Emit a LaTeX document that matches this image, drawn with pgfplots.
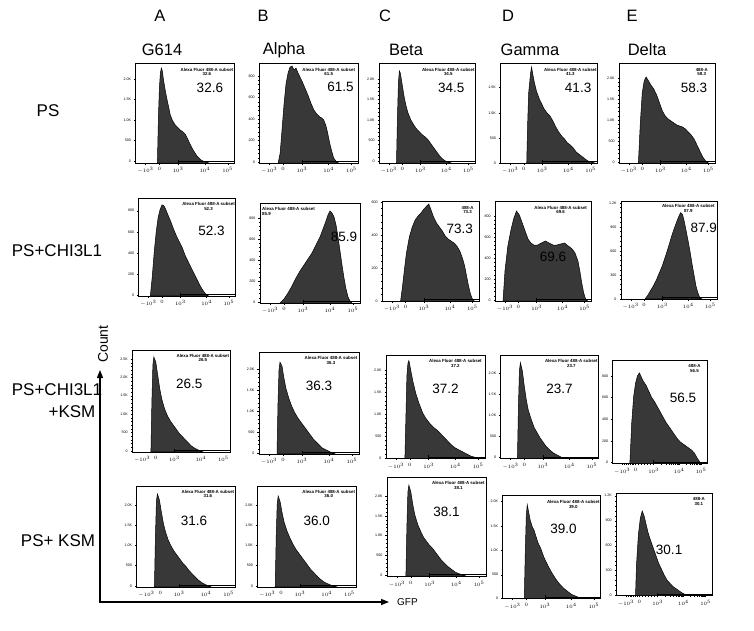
\documentclass[border=0pt]{standalone}
\usepackage{pgfplots}
\pgfplotsset{compat=1.18}
\usepackage{fontspec}
\setmainfont{Liberation Sans}
\usetikzlibrary{arrows.meta}
\pgfplotsset{
  hist/.style={scale only axis, anchor=north west, xmin=0, xmax=100, ymin=0, ymax=100,
    axis line style={black, line width=0.6pt},
    xtick={10,24,43,70,93}, xticklabels={$-10^3$,$0$,$10^3$,$10^4$,$10^5$},
    minor xtick={12,14,16,18,20,22,27,30,33,36,39,51.1,55.9,59.3,61.9,64,65.8,67.4,68.8,76.9,81,83.8,86.1,87.9,89.4,90.8,92},
    xtick pos=left, ytick pos=left, tick align=outside,
    major tick length=1.6pt, minor tick length=0.9pt,
    minor y tick num=4,
    tick style={black, line width=0.4pt},
    tick label style={font=\fontsize{3.6}{4}\selectfont},
    xticklabel style={yshift=0.5pt}, yticklabel style={xshift=0.5pt},
    clip=false},
  hf/.style={fill=black!78, draw=black, line width=0.5pt},
}
\tikzset{lab/.style={font=\fontsize{4.4}{4.8}\selectfont\bfseries, inner sep=0pt, align=center},
  big/.style={font=\fontsize{13.5}{14}\selectfont, inner sep=0pt},
  gate/.style={black, line width=0.6pt},
  hdr/.style={font=\fontsize{16.5}{18}\selectfont, inner sep=0pt},
  rowl/.style={font=\fontsize{17}{20}\selectfont, inner sep=0pt, align=center}}
\newcommand{\gate}{\draw[gate] (axis cs:43,1.5) -- (axis cs:100,1.5); \draw[gate] (axis cs:43,0) -- (axis cs:43,3);}
\begin{document}
\begin{tikzpicture}[x=1pt,y=1pt]
% headers
\foreach \x/\l in {160/A, 263/B, 385/C, 508/D, 632/E}{\node[hdr] at (\x,-16) {\l};}
\foreach \x/\n in {162/G614, 284/Alpha, 406/Beta, 530/Gamma, 647/Delta}{\node[hdr] at (\x,-50) {\n};}
\node[rowl] at (48,-111) {PS};
\node[rowl] at (57,-251) {PS+CHI3L1};
\node[rowl] at (57,-390) {PS+CHI3L1};
\node[rowl] at (72,-412) {+KSM};
\node[rowl] at (58,-541) {PS+ KSM};
\draw[line width=1.3pt, -{Triangle[length=8pt,width=6pt]}] (100,-602) -- (100,-370);
\draw[line width=1.3pt, -{Triangle[length=8pt,width=6pt]}] (99.35,-602) -- (389,-602);
\node[font=\fontsize{14}{14}\selectfont, rotate=90, inner sep=0pt] at (103,-344) {Count};
\node[font=\fontsize{10}{10}\selectfont, inner sep=0pt, anchor=west] at (397,-602) {GFP};

% ===== Row 1 =====
\begin{axis}[hist, at={(137,-63)}, width=99, height=100, ytick={2,22.5,43,63.5,84}, yticklabels={0,500,1.0K,1.5K,2.0K}]
\addplot[hf] coordinates {(22,0)(23,45)(24,75)(25,90)(26,95)(27,92)(28,84)(30,72)(32,62)(34,53)(35,48)(37,43)(40,38)(43,35)(45,33)(48,31)(50,29)(52,25)(54,21)(56,17)(58,13)(60,10)(62,7)(64,5)(66,3)(68,2)(71,1)(74,0)} \closedcycle;
\gate
\node[lab] at (axis cs:72,91) {Alexa Fluor 488-A subset\\32.6};
\node[big] at (axis cs:75,75) {32.6};
\end{axis}
\begin{axis}[hist, at={(262,-63)}, width=99, height=100, ytick={1,22.5,44,65.5,87}, yticklabels={0,200,400,600,800}]
\addplot[hf] coordinates {(19,0)(21,10)(23,35)(25,60)(27,80)(29,90)(31,96)(33,97)(35,93)(37,95)(39,90)(41,86)(43,82)(46,75)(49,68)(52,60)(55,53)(58,49)(61,46)(63,45)(65,43)(67,38)(69,30)(71,20)(73,12)(75,5)(78,1)(80,0)} \closedcycle;
\gate
\node[lab] at (axis cs:70,91) {Alexa Fluor 488-A subset\\61.5};
\node[big] at (axis cs:82,76) {61.5};
\end{axis}
\begin{axis}[hist, at={(395,-63)}, width=96, height=100, ytick={2,22.5,43,63.5,84}, yticklabels={0,500,1.0K,1.5K,2.0K}]
\addplot[hf] coordinates {(18,0)(19,45)(20,80)(21,92)(22,90)(24,78)(26,66)(28,57)(30,50)(33,43)(36,38)(39,34)(42,31)(45,28)(48,26)(51,23)(54,19)(57,15)(60,11)(63,7)(66,4)(69,2)(72,1)(75,0)} \closedcycle;
\gate
\node[lab] at (axis cs:72,91) {Alexa Fluor 488-A subset\\34.5};
\node[big] at (axis cs:75,75) {34.5};
\end{axis}
\begin{axis}[hist, at={(516,-63)}, width=97, height=100, ytick={0,25,50,76}, yticklabels={0,500,1.0K,1.5K}]
\addplot[hf] coordinates {(27,0)(28,40)(29,70)(31,90)(32,96)(33,90)(35,80)(37,72)(40,64)(43,58)(45,54)(48,50)(51,47)(54,42)(57,36)(60,31)(63,27)(66,24)(69,20)(72,18)(75,15)(78,11)(82,8)(86,5)(90,2)(94,1)(97,0)} \closedcycle;
\gate
\node[lab] at (axis cs:72,91) {Alexa Fluor 488-A subset\\41.3};
\node[big] at (axis cs:80,75) {41.3};
\end{axis}
\begin{axis}[hist, at={(645,-63)}, width=96, height=100, ytick={1,22,43,64,85}, yticklabels={0,500,1.0K,1.5K,2.0K}]
\addplot[hf] coordinates {(20,0)(22,40)(24,70)(26,82)(28,86)(30,83)(33,78)(36,74)(39,68)(42,60)(45,52)(48,47)(51,44)(54,42)(57,40)(60,38)(63,37)(66,36)(69,34)(72,31)(75,28)(78,24)(81,18)(84,12)(87,6)(90,2)(93,0)} \closedcycle;
\gate
\node[lab] at (axis cs:86,91) {488-A\\58.3};
\node[big] at (axis cs:78,75) {58.3};
\end{axis}

% ===== Row 2 =====
\begin{axis}[hist, at={(143,-202)}, width=97, height=98, ytick={1,22.5,44,65.5,87}, yticklabels={0,200,400,600,800}]
\addplot[hf] coordinates {(12,0)(14,20)(16,45)(18,65)(20,80)(22,88)(24,93)(26,92)(28,88)(30,83)(33,76)(36,68)(39,61)(42,55)(45,49)(48,41)(51,35)(54,29)(57,23)(60,17)(63,11)(66,6)(69,2)(72,0)} \closedcycle;
\gate
\node[lab] at (axis cs:72,91) {Alexa Fluor 488-A subset\\52.3};
\node[big] at (axis cs:75,66) {52.3};
\end{axis}
\begin{axis}[hist, at={(260,-203)}, width=100, height=100, ytick={1,22,43,64,85}, yticklabels={0,200,400,600,800}]
\addplot[hf] coordinates {(20,0)(24,4)(28,10)(32,17)(36,25)(40,32)(44,38)(48,44)(52,50)(56,58)(60,66)(63,74)(66,82)(68,88)(70,92)(72,90)(74,86)(76,78)(78,66)(80,52)(82,38)(84,25)(86,14)(88,6)(90,2)(92,0)} \closedcycle;
\gate
\node[lab, anchor=north west, align=left] at (axis cs:2,96) {Alexa Fluor 488-A subset\\85.9};
\node[big] at (axis cs:84,66) {85.9};
\end{axis}
\begin{axis}[hist, at={(394,-201)}, width=97, height=100, ytick={0,33,66,99}, yticklabels={0,200,400,600}]
\addplot[hf] coordinates {(19,0)(21,15)(23,32)(25,48)(28,64)(31,74)(34,81)(37,85)(40,88)(43,92)(46,95)(48,97)(50,92)(53,84)(56,78)(59,74)(62,70)(65,65)(68,62)(71,60)(74,58)(77,55)(80,50)(83,42)(85,35)(87,25)(89,15)(91,7)(93,2)(95,0)} \closedcycle;
\gate
\node[lab] at (axis cs:88,91) {488-A\\73.3};
\node[big] at (axis cs:80,72) {73.3};
\end{axis}
\begin{axis}[hist, at={(516,-201)}, width=96, height=100, ytick={1,22,43,64,85}, yticklabels={0,200,400,600,800}]
\addplot[hf] coordinates {(8,0)(10,30)(13,55)(16,70)(19,82)(22,90)(25,86)(28,78)(31,70)(34,62)(37,58)(40,56)(44,56)(48,58)(52,60)(56,58)(60,56)(64,56)(68,57)(72,58)(76,55)(80,52)(83,48)(86,40)(88,30)(90,18)(92,8)(94,2)(96,0)} \closedcycle;
\gate
\node[lab] at (axis cs:68,91) {Alexa Fluor 488-A subset\\69.6};
\node[big] at (axis cs:60,44) {69.6};
\end{axis}
\begin{axis}[hist, at={(647,-205)}, width=96, height=98, ytick={0,24.5,49,73.5,98}, yticklabels={0,300,600,900,1.2K}]
\addplot[hf] coordinates {(25,0)(28,4)(31,9)(34,14)(37,20)(40,27)(43,34)(46,43)(49,52)(52,62)(55,71)(58,79)(60,84)(62,88)(64,86)(66,78)(68,68)(70,58)(72,47)(74,35)(76,24)(78,13)(80,6)(82,1)(84,0)} \closedcycle;
\gate
\node[lab] at (axis cs:70,92) {Alexa Fluor 488-A subset\\87.9};
\node[big] at (axis cs:86,72) {87.9};
\end{axis}

% ===== Row 3 =====
\begin{axis}[hist, at={(135,-343)}, width=98, height=102, ytick={1,19,37,55,73,91}, yticklabels={0,500,1.0K,1.5K,2.0K,2.5K}]
\addplot[hf] coordinates {(19,0)(20,50)(21,85)(22,93)(24,88)(26,75)(28,62)(30,52)(33,42)(36,35)(39,30)(42,26)(45,22)(48,18)(51,15)(54,12)(57,9)(60,6)(63,4)(67,2)(72,0)} \closedcycle;
\gate
\node[lab] at (axis cs:72,92) {Alexa Fluor 488-A subset\\26.5};
\node[big] at (axis cs:58,67) {26.5};
\end{axis}
\begin{axis}[hist, at={(259,-345)}, width=100, height=102, ytick={1,21.5,42,62.5,83}, yticklabels={0,500,1.0K,1.5K,2.0K}]
\addplot[hf] coordinates {(18,0)(19,50)(20,82)(21,90)(23,86)(25,74)(27,64)(30,54)(33,46)(36,40)(39,35)(42,31)(45,27)(48,23)(51,19)(54,15)(57,12)(60,9)(63,6)(67,4)(71,2)(76,0)} \closedcycle;
\gate
\node[lab] at (axis cs:72,92) {Alexa Fluor 488-A subset\\36.3};
\node[big] at (axis cs:60,67) {36.3};
\end{axis}
\begin{axis}[hist, at={(390,-345)}, width=99, height=103, ytick={0,21.5,43,64.5,86}, yticklabels={0,500,1.0K,1.5K,2.0K}]
\addplot[hf] coordinates {(19,0)(20,40)(21,80)(22,92)(23,95)(25,85)(27,75)(30,63)(33,54)(37,44)(40,39)(44,34)(48,30)(52,27)(54,25)(58,21)(62,17)(66,13)(70,10)(74,8)(78,6)(82,4)(86,2)(90,1)(93,0)} \closedcycle;
\gate
\node[lab] at (axis cs:70,92) {Alexa Fluor 488-A subset\\37.2};
\node[big] at (axis cs:60,67) {37.2};
\end{axis}
\begin{axis}[hist, at={(511,-345)}, width=98, height=103, ytick={1,21.5,42,62.5,83}, yticklabels={0,500,1.0K,1.5K,2.0K}]
\addplot[hf] coordinates {(17,0)(18,50)(19,85)(20,93)(22,85)(24,70)(26,57)(28,47)(31,38)(34,30)(37,25)(40,20)(43,16)(46,12)(50,8)(54,5)(58,3)(62,1)(66,0)} \closedcycle;
\gate
\node[lab] at (axis cs:72,92) {Alexa Fluor 488-A subset\\23.7};
\node[big] at (axis cs:60,67) {23.7};
\end{axis}
\begin{axis}[hist, at={(645,-350)}, width=95, height=103, ytick={1,22,43,64,85}, yticklabels={0,200,400,600,800}]
\addplot[hf] coordinates {(18,0)(20,40)(22,65)(24,78)(26,85)(28,88)(30,84)(32,80)(35,76)(38,70)(41,64)(44,60)(47,55)(50,50)(53,45)(56,40)(59,36)(62,32)(65,28)(68,24)(71,21)(74,19)(77,17)(80,15)(83,13)(86,10)(89,5)(92,1)(94,0)} \closedcycle;
\gate
\node[lab] at (axis cs:86,92) {488-A\\56.5};
\node[big] at (axis cs:74,64) {56.5};
\end{axis}

% ===== Row 4 =====
\begin{axis}[hist, at={(138,-481)}, width=99, height=101, ytick={1,21,41,61,81}, yticklabels={0,500,1.0K,1.5K,2.0K}]
\addplot[hf] coordinates {(18,0)(19,50)(20,85)(21,92)(23,86)(25,74)(27,63)(29,55)(32,46)(35,40)(38,35)(41,31)(44,27)(47,23)(50,20)(53,16)(56,13)(59,10)(62,7)(66,4)(70,2)(75,0)} \closedcycle;
\gate
\node[lab] at (axis cs:72,92) {Alexa Fluor 488-A subset\\31.6};
\node[big] at (axis cs:58,65) {31.6};
\end{axis}
\begin{axis}[hist, at={(260,-481)}, width=99, height=101, ytick={1,21,41,61,81}, yticklabels={0,500,1.0K,1.5K,2.0K}]
\addplot[hf] coordinates {(18,0)(19,50)(20,82)(21,90)(23,84)(25,73)(27,64)(30,55)(33,48)(36,42)(39,37)(42,33)(45,29)(48,25)(51,21)(54,17)(57,14)(60,11)(63,8)(67,5)(71,3)(76,1)(80,0)} \closedcycle;
\gate
\node[lab] at (axis cs:72,92) {Alexa Fluor 488-A subset\\36.0};
\node[big] at (axis cs:60,65) {36.0};
\end{axis}
\begin{axis}[hist, at={(391,-482)}, width=99, height=99, ytick={1,21,41,61,81}, yticklabels={0,500,1.0K,1.5K,2.0K}]
\addplot[hf] coordinates {(19,0)(20,50)(21,85)(22,92)(24,85)(26,72)(28,62)(31,52)(34,45)(37,39)(40,35)(43,31)(46,28)(49,24)(52,20)(55,16)(58,13)(61,10)(65,7)(69,4)(74,2)(80,0)} \closedcycle;
\gate
\node[lab] at (axis cs:72,92) {Alexa Fluor 488-A subset\\38.1};
\node[big] at (axis cs:60,65) {38.1};
\end{axis}
\begin{axis}[hist, at={(513,-481)}, width=98, height=103, ytick={0,23,47,70,94}, yticklabels={0,500,1.0K,1.5K,2.0K}]
\addplot[hf] coordinates {(22,0)(23,45)(24,80)(25,91)(26,86)(28,76)(30,70)(32,66)(34,60)(36,54)(39,48)(42,40)(46,32)(50,25)(54,19)(58,14)(62,10)(66,7)(70,4)(75,2)(80,0)} \closedcycle;
\gate
\node[lab] at (axis cs:72,91) {Alexa Fluor 488-A subset\\39.0};
\node[big] at (axis cs:62,68) {39.0};
\end{axis}
\begin{axis}[hist, at={(642,-484)}, width=96, height=102, ytick={0,24.5,49,73.5,98}, yticklabels={0,300,600,900,1.2K}]
\addplot[hf] coordinates {(20,0)(21,30)(23,60)(25,76)(27,83)(29,78)(31,70)(33,62)(35,56)(38,48)(41,40)(44,32)(47,26)(50,20)(53,15)(56,12)(59,9)(62,7)(65,5)(68,3)(72,1)(76,0)} \closedcycle;
\gate
\node[lab] at (axis cs:86,92) {488-A\\30.1};
\node[big] at (axis cs:55,45) {30.1};
\end{axis}
\pgfresetboundingbox
\useasboundingbox (0,0) rectangle (754,-630);
\end{tikzpicture}
\end{document}
